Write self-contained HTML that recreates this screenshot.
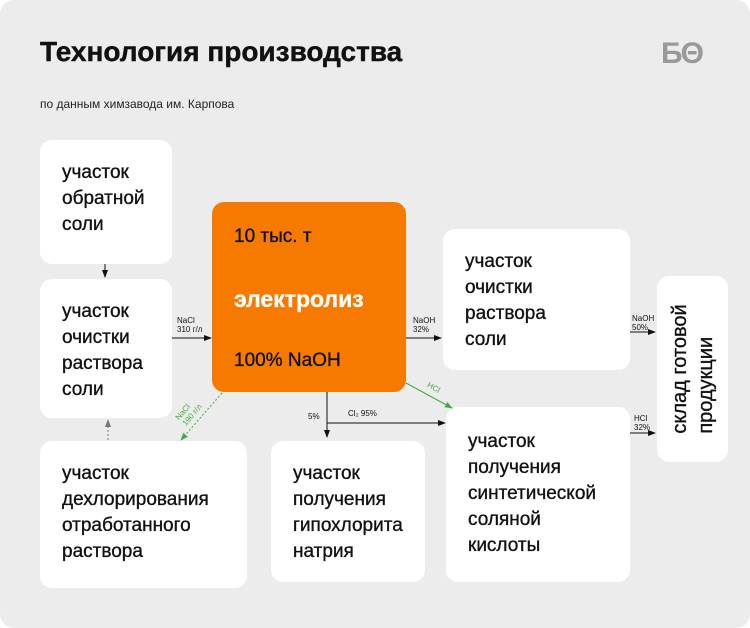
<!DOCTYPE html><html><head><meta charset="utf-8"><style>
body{margin:0;width:750px;height:628px;background:#fff;font-family:"Liberation Sans",sans-serif;overflow:hidden}
.bg{position:absolute;left:0;top:0;width:750px;height:628px;background:#ececec;border-radius:14px}
.b{position:absolute;background:#fff;border-radius:12px;box-sizing:border-box;font-size:19px;line-height:26px;color:#111;-webkit-text-stroke:0.35px #111}
.s{position:absolute;font-size:8px;line-height:9px;color:#111}
</style></head><body><div class="bg"></div>
<div style="position:absolute;left:40px;top:36px;font-size:28px;font-weight:bold;color:#111;-webkit-text-stroke:0.4px #111">Технология производства</div>
<div style="position:absolute;left:40px;top:97px;font-size:12px;color:#222">по данным химзавода им. Карпова</div>
<div style="position:absolute;left:661px;top:37px;font-size:30px;font-weight:bold;color:#999;letter-spacing:-2px">БΘ</div>
<div class="b" style="left:40px;top:140px;width:132px;height:124px;padding:20px 0 0 22px">участок<br>обратной<br>соли</div>
<div class="b" style="left:40px;top:279px;width:132px;height:139px;padding:20px 0 0 22px">участок<br>очистки<br>раствора<br>соли</div>
<div class="b" style="left:40px;top:441px;width:207px;height:147px;padding:20px 0 0 22px">участок<br>дехлорирования<br>отработанного<br>раствора</div>
<div class="b" style="left:212px;top:202px;width:194px;height:190px;background:#f77a00;color:#111;padding:0 0 0 22px">
<div style="position:absolute;left:22px;top:22px;font-size:19px">10 тыс. т</div>
<div style="position:absolute;left:22px;top:84px;font-size:23px;font-weight:bold;color:#fff;-webkit-text-stroke:0.3px #fff">электролиз</div>
<div style="position:absolute;left:22px;top:146px;font-size:19px">100% NaOH</div></div>
<div class="b" style="left:443px;top:229px;width:187px;height:141px;padding:20px 0 0 22px">участок<br>очистки<br>раствора<br>соли</div>
<div class="b" style="left:271px;top:441px;width:154px;height:141px;padding:20px 0 0 22px">участок<br>получения<br>гипохлорита<br>натрия</div>
<div class="b" style="left:446px;top:407px;width:184px;height:175px;padding:22px 0 0 22px">участок<br>получения<br>синтетической<br>соляной<br>кислоты</div>
<div class="b" style="left:657px;top:276px;width:71px;height:186px"><div style="position:absolute;left:36px;top:93px;transform:translate(-50%,-50%) rotate(-90deg);white-space:nowrap;text-align:left;line-height:26px;font-size:20px">склад готовой<br>продукции</div></div>
<svg width="750" height="628" style="position:absolute;left:0;top:0">
<defs><marker id="a" markerWidth="8" markerHeight="6" refX="7" refY="3" orient="auto"><path d="M0,0L8,3L0,6z" fill="#111"/></marker>
<marker id="g" markerWidth="8" markerHeight="6" refX="7" refY="3" orient="auto"><path d="M0,0L8,3L0,6z" fill="#4a4"/></marker>
<marker id="c" markerWidth="8" markerHeight="6" refX="7" refY="3" orient="auto"><path d="M0,0L8,3L0,6z" fill="#777"/></marker></defs>
<g stroke="#111" stroke-width="1" fill="none">
<path d="M105 264V277" marker-end="url(#a)"/><path d="M172 338H211" marker-end="url(#a)"/>
<path d="M406 338H441" marker-end="url(#a)"/><path d="M630 332H655" marker-end="url(#a)"/>
<path d="M630 433H655" marker-end="url(#a)"/><path d="M327 392V437" marker-end="url(#a)"/>
<path d="M327 423H445" marker-end="url(#a)"/></g>
<path d="M406 383L452 408" stroke="#4a4" marker-end="url(#g)"/>
<path d="M222 393L181 440" stroke="#4a4" stroke-dasharray="2,2" marker-end="url(#g)"/>
<path d="M108 440V420" stroke="#777" stroke-dasharray="2,2" marker-end="url(#c)"/>
</svg>
<div class="s" style="left:177px;top:316px">NaCl<br>310 г/л</div>
<div class="s" style="left:413px;top:316px">NaOH<br>32%</div>
<div class="s" style="left:632px;top:314px">NaOH<br>50%</div>
<div class="s" style="left:634px;top:414px">HCl<br>32%</div>
<div class="s" style="left:308px;top:412px">5%</div>
<div class="s" style="left:348px;top:409px">Cl₂ 95%</div>
<div class="s" style="left:427px;top:383px;color:#4a4;transform:rotate(30deg)">HCl</div>
<div class="s" style="left:176px;top:403px;color:#4a4;transform:rotate(-50deg)">NaCl<br>190 г/л</div>
</body></html>
